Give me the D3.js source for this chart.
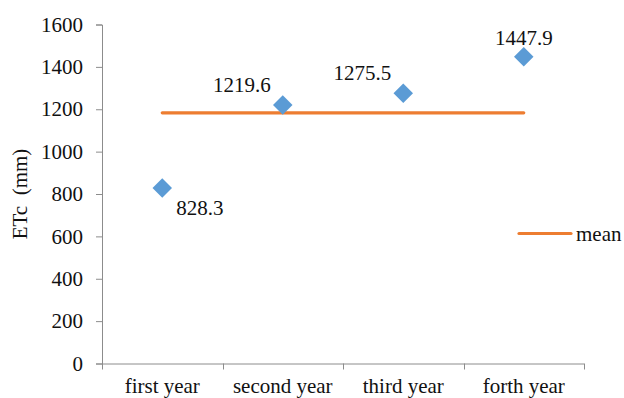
<!DOCTYPE html>
<html>
<head>
<meta charset="utf-8">
<script src="https://cdn.jsdelivr.net/npm/d3@7"></script>
<style>
  html, body { margin: 0; padding: 0; background: #fff; }
  svg { display: block; }
</style>
</head>
<body>
<svg id="chart" width="624" height="398"></svg>
<script>
// Seasonal crop evapotranspiration (ETc) per year, with the mean level
const years = ["first year", "second year", "third year", "forth year"];
const etc = [828.3, 1219.6, 1275.5, 1447.9];
const meanLevel = [1183, 1183, 1183, 1183];
const yTicks = [0, 200, 400, 600, 800, 1000, 1200, 1400, 1600];
// label placement relative to each point: "br" below-right, "tl" above-left, "t" above
const labelPos = ["br", "tl", "tl", "t"];

const FONT = "'Liberation Serif', 'Times New Roman', serif";
const FS = 21;
const svg = d3.select("#chart")
  .attr("font-family", FONT)
  .style("font-family", FONT);
const margin = { left: 102, right: 40, top: 24.5, bottom: 34.5 };
const W = 624, H = 398;

const x = d3.scaleBand().domain(years).range([margin.left, W - margin.right]).padding(0);
const y = d3.scaleLinear().domain([0, 1600]).range([H - margin.bottom, margin.top]);

const axisColor = "#8c8c8c";
const textColor = "#111";

// y axis
const yAxis = svg.append("g")
  .attr("transform", `translate(${margin.left},0)`)
  .call(d3.axisLeft(y).tickValues(yTicks).tickSize(6).tickPadding(13).tickFormat(d3.format("d")))
  .attr("font-family", FONT)
  .attr("font-size", FS);
yAxis.select(".domain").attr("stroke", axisColor);
yAxis.selectAll(".tick line").attr("stroke", axisColor);
yAxis.selectAll(".tick text").attr("fill", textColor);

// x axis with ticks at band boundaries
const xAxisG = svg.append("g").attr("transform", `translate(0,${y(0)})`);
xAxisG.append("line")
  .attr("x1", margin.left).attr("x2", W - margin.right)
  .attr("y1", 0.5).attr("y2", 0.5)
  .attr("stroke", axisColor);
const bounds = years.map(d => x(d)).concat([x(years[years.length - 1]) + x.bandwidth()]);
xAxisG.selectAll("line.tk").data(bounds).enter().append("line")
  .attr("class", "tk")
  .attr("x1", d => Math.round(d) + 0.5).attr("x2", d => Math.round(d) + 0.5)
  .attr("y1", 0).attr("y2", 6)
  .attr("stroke", axisColor);
xAxisG.selectAll("text").data(years).enter().append("text")
  .attr("x", d => x(d) + x.bandwidth() / 2)
  .attr("y", 29)
  .attr("text-anchor", "middle")
  .attr("font-size", FS)
  .attr("fill", textColor)
  .text(d => d);

// y axis title
svg.append("text")
  .attr("transform", `translate(27,${(y(0) + y(1600)) / 2}) rotate(-90)`)
  .attr("text-anchor", "middle")
  .attr("font-size", FS)
  .attr("fill", textColor)
  .style("white-space", "pre")
  .text("ETc  (mm)");

const cx = d => x(d) + x.bandwidth() / 2;

// mean line
const meanLine = d3.line().x((d, i) => cx(years[i])).y(d => y(d));
svg.append("path")
  .datum(meanLevel)
  .attr("d", meanLine)
  .attr("fill", "none")
  .attr("stroke", "#ED7D31")
  .attr("stroke-width", 3.2)
  .attr("stroke-linecap", "round");

// diamond markers
const diamond = d3.symbol().type(d3.symbolSquare).size(190);
svg.selectAll("path.pt").data(etc).enter().append("path")
  .attr("class", "pt")
  .attr("d", diamond)
  .attr("transform", (d, i) => `translate(${cx(years[i])},${y(d)}) rotate(45)`)
  .attr("fill", "#5B9BD5");

// value labels
svg.selectAll("text.val").data(etc).enter().append("text")
  .attr("class", "val")
  .attr("font-size", FS)
  .attr("fill", textColor)
  .attr("text-anchor", (d, i) => labelPos[i] === "br" ? "start" : labelPos[i] === "tl" ? "end" : "middle")
  .attr("x", (d, i) => {
    const p = labelPos[i], px = cx(years[i]);
    return p === "br" ? px + 14 : p === "tl" ? px - 12 : px;
  })
  .attr("y", (d, i) => {
    const p = labelPos[i], py = y(d);
    return p === "br" ? py + 27 : p === "tl" ? py - 13 : py - 12;
  })
  .text(d => d3.format(".1f")(d));

// legend
const lg = svg.append("g").attr("transform", "translate(519,233.5)");
lg.append("line").attr("x1", 0).attr("x2", 52).attr("y1", 0).attr("y2", 0)
  .attr("stroke", "#ED7D31").attr("stroke-width", 3.2).attr("stroke-linecap", "round");
lg.append("text").attr("x", 57).attr("y", 7).attr("font-size", FS).attr("fill", textColor).text("mean");
</script>
</body>
</html>
